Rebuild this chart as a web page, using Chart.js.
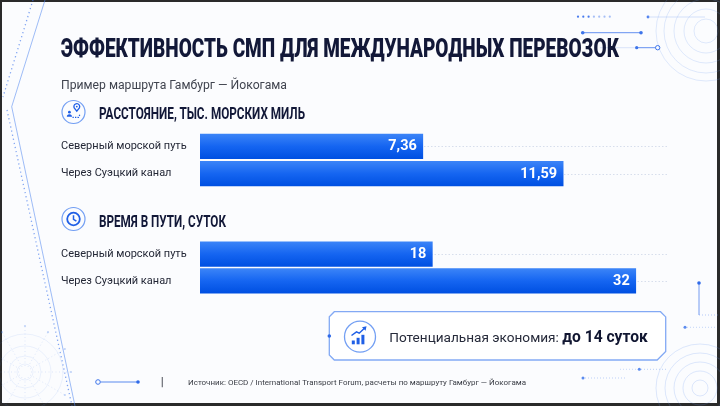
<!DOCTYPE html>
<html><head><meta charset="utf-8">
<script src="https://cdn.jsdelivr.net/npm/chart.js@4.4.1/dist/chart.umd.min.js"></script>
<style>
html,body{margin:0;padding:0;width:720px;height:406px;overflow:hidden;background:#2a2a2a;position:relative;}
#bg{position:absolute;left:2px;top:2px;right:3px;bottom:3px;background:#fbfcfe;}
#decor{position:absolute;left:0;top:0;z-index:1;}
.cv{position:absolute;z-index:2;}
.t{position:absolute;white-space:nowrap;line-height:1;font-family:Roboto,"Noto Sans",sans-serif;transform-origin:0 0;z-index:3;color:#121838;}
</style></head>
<body>
<div id="bg"></div>
<canvas id="decor" width="720" height="406"></canvas>
<div class="t fit" data-w="558" style="left:60.7px;top:34.8px;font-size:26px;font-weight:900;">ЭФФЕКТИВНОСТЬ СМП ДЛЯ МЕЖДУНАРОДНЫХ ПЕРЕВОЗОК</div>
<div class="t fit" data-w="226" style="left:60.7px;top:79px;font-size:12.5px;color:#40444f;">Пример маршрута Гамбург — Йокогама</div>
<div class="t fit" data-w="206" style="left:99.3px;top:106.1px;font-size:16.5px;font-weight:700;">РАССТОЯНИЕ, ТЫС. МОРСКИХ МИЛЬ</div>
<div class="t fit" data-w="127" style="left:99.3px;top:214.1px;font-size:16.5px;font-weight:700;">ВРЕМЯ В ПУТИ, СУТОК</div>
<div class="t" style="left:389.3px;top:328.8px;font-size:13.6px;line-height:16px;color:#262a3a;">Потенциальная экономия: <span style="font-size:15.6px;font-weight:700;color:#111631;">до 14 суток</span></div>
<div class="t fit" data-w="338" style="left:188.3px;top:378.8px;font-size:8px;color:#3a3d45;">Источник: OECD / International Transport Forum, расчеты по маршруту Гамбург — Йокогама</div>
<canvas id="c1" class="cv" width="700" height="68" style="left:0;top:126px;width:700px;height:68px;"></canvas>
<canvas id="c2" class="cv" width="700" height="67" style="left:0;top:234.25px;width:700px;height:67px;"></canvas>
<script>
// ---- data ----
const routeLabels = ['Северный морской путь', 'Через Суэцкий канал'];
const distanceValues = [7.36, 11.59];   // тыс. морских миль
const timeValues = [18, 32];            // суток
const savingDays = 14;

// ---- fit text widths ----
document.querySelectorAll('.fit').forEach(el => {
  const w = parseFloat(el.dataset.w);
  const nat = el.getBoundingClientRect().width;
  if (nat > 0) el.style.transform = 'scaleX(' + (w / nat) + ')';
});

// ---- decorations ----
const d = document.getElementById('decor').getContext('2d');
function dot(x, y, r, c) { d.beginPath(); d.arc(x, y, r, 0, Math.PI * 2); d.fillStyle = c; d.fill(); }
function line(pts, c, lw, dash) {
  d.beginPath(); d.setLineDash(dash || []); d.strokeStyle = c; d.lineWidth = lw;
  d.moveTo(pts[0][0], pts[0][1]); for (let i = 1; i < pts.length; i++) d.lineTo(pts[i][0], pts[i][1]);
  d.stroke(); d.setLineDash([]);
}
function ring(x, y, r, c, lw) { d.beginPath(); d.arc(x, y, r, 0, Math.PI * 2); d.strokeStyle = c; d.lineWidth = lw; d.stroke(); }
// left frame lines
line([[45, 0], [11.7, 106.7], [75, 406]], 'rgba(80,135,240,0.55)', 1);
line([[33, 0], [3, 97]], 'rgba(60,115,235,0.65)', 1.3, [1.2, 3]);
line([[7, 110], [72, 406]], 'rgba(60,115,235,0.65)', 1.3, [1.2, 3]);
// bottom-left radial
for (const r of [8, 16, 26, 38]) ring(25, 372, r, 'rgba(90,140,235,0.1)', 1);
for (let a = 0; a < 12; a++) {
  const ang = a * Math.PI / 6;
  const x2 = 25 + Math.cos(ang) * 46, y2 = 372 + Math.sin(ang) * 46;
  line([[25 + Math.cos(ang) * 6, 372 + Math.sin(ang) * 6], [x2, y2]], 'rgba(90,140,235,0.18)', 1, [1, 2.5]);
  dot(x2, y2, 1.1, 'rgba(70,125,235,0.3)');
}
// top-right circles
for (const r of [12, 22, 32, 42, 50]) ring(706, 31, r, 'rgba(110,155,240,0.2)', 1);
// bottom-right circles
for (const r of [8, 17, 26, 35, 44]) ring(700, 388, r, 'rgba(110,155,240,0.22)', 1);
// top-right lines
for (let i = 0; i < 7; i++) dot(578 + i * 5.3, 16.7, 1.1, i < 3 ? 'rgba(40,100,235,0.85)' : 'rgba(40,100,235,0.4)');
dot(648, 17, 1.4, 'rgba(40,100,235,0.8)');
line([[648, 17], [705, 17]], 'rgba(120,160,240,0.3)', 1);
line([[582.7, 32.7], [641, 32.7]], 'rgba(50,110,235,0.75)', 1);
dot(582.7, 32.7, 1.8, '#3d74ea'); dot(641, 32.7, 1.8, '#3d74ea');
line([[600, 47.7], [636.7, 47.7]], 'rgba(120,160,240,0.25)', 1);
line([[636.7, 47.7], [655.5, 47.7]], 'rgba(50,110,235,0.75)', 1);
dot(636.7, 47.7, 1.6, '#3d74ea'); ring(657.7, 47.7, 2.2, '#3d74ea', 1);
// bottom-right lines
line([[699, 283], [699, 315]], 'rgba(60,115,235,0.7)', 1);
dot(699, 283, 1.8, '#2f6ae8');
line([[699, 315], [718, 315]], 'rgba(90,140,240,0.45)', 1, [1, 2]);
dot(685, 327.3, 1.5, 'rgba(50,110,235,0.8)');
line([[687, 327.3], [716, 327.3]], 'rgba(110,155,240,0.4)', 1, [1, 2]);
dot(639.3, 369.3, 1.5, 'rgba(50,110,235,0.8)');
line([[620, 369.3], [637, 369.3]], 'rgba(110,155,240,0.35)', 1, [1, 2]);
line([[641, 369.3], [668, 369.3]], 'rgba(110,155,240,0.45)', 1, [1, 2]);
dot(583, 378, 1.5, 'rgba(50,110,235,0.8)');
line([[585, 378], [627, 378]], 'rgba(110,155,240,0.45)', 1, [1, 2]);
// footer deco
line([[100.5, 382], [138, 382]], 'rgba(50,110,235,0.8)', 1);
ring(98, 382, 2.3, '#3d74ea', 1); dot(138, 382, 1.8, '#2f6ae8');
line([[162.3, 377], [162.3, 387.3]], '#6a6d75', 1.2);
// info box
d.beginPath();
d.moveTo(334.3, 311.7); d.lineTo(660.5, 311.7); d.lineTo(665.7, 316.9);
d.lineTo(665.7, 351.5); d.lineTo(657.2, 360); d.lineTo(334.3, 360);
d.lineTo(329.3, 355); d.lineTo(329.3, 316.7); d.closePath();
d.fillStyle = '#ffffff'; d.fill(); d.strokeStyle = 'rgba(90,140,240,0.75)'; d.lineWidth = 1.3; d.stroke();
dot(329.3, 336, 1.8, '#2f6ae8');
// info icon
ring(360, 336.7, 15.5, 'rgba(80,135,240,0.8)', 1.3);
d.fillStyle = '#1f5fe6';
d.fillRect(351.8, 340.5, 3, 3.8); d.fillRect(356.6, 337.8, 3, 6.5); d.fillRect(361.4, 334.8, 3, 9.5);
line([[351.5, 335.5], [356.5, 331.8], [359.2, 333.2], [365, 327.8]], '#1f5fe6', 1.5);
d.beginPath(); d.moveTo(366.5, 326.3); d.lineTo(362, 327.2); d.lineTo(365.6, 330.8); d.closePath(); d.fill();
// distance icon
ring(73.5, 112, 11.5, 'rgba(80,135,240,0.8)', 1.2);
d.beginPath(); d.arc(76.8, 106.6, 2.9, Math.PI * 0.85, Math.PI * 2.15); d.lineTo(76.8, 111.2); d.closePath();
d.strokeStyle = '#1f5fe6'; d.lineWidth = 1.3; d.stroke();
dot(76.8, 106.6, 0.9, '#1f5fe6');
dot(69.4, 112.2, 1.4, '#1f5fe6');
d.beginPath(); d.arc(69.4, 116.8, 2.6, Math.PI, 0); d.fillStyle = '#1f5fe6'; d.fill();
line([[72.5, 117.3], [78.5, 117.3], [80, 114.5]], '#1f5fe6', 1.2, [1.3, 1.2]);
// clock icon
ring(73.5, 219, 11.5, 'rgba(80,135,240,0.8)', 1.2);
ring(73.5, 219, 6.3, '#1f5fe6', 1.8);
line([[73.5, 215.3], [73.5, 219.3], [76.4, 221.2]], '#1f5fe6', 1.5);

// ---- charts ----
const fmt = v => String(v).replace('.', ',');
const trackPlugin = {
  id: 'track',
  beforeDatasetsDraw(chart) {
    const { ctx, chartArea } = chart;
    const meta = chart.getDatasetMeta(0);
    ctx.save();
    ctx.strokeStyle = 'rgba(200,210,228,0.7)'; ctx.lineWidth = 1; ctx.setLineDash([1.5, 2]);
    meta.data.forEach(b => {
      ctx.beginPath(); ctx.moveTo(chartArea.left, Math.round(b.y) + 0.5); ctx.lineTo(chartArea.right, Math.round(b.y) + 0.5); ctx.stroke();
    });
    ctx.restore();
  }
};
const valuePlugin = {
  id: 'values',
  afterDatasetsDraw(chart) {
    const { ctx } = chart;
    const ds = chart.data.datasets[0];
    const meta = chart.getDatasetMeta(0);
    ctx.save();
    ctx.fillStyle = '#ffffff'; ctx.textAlign = 'right'; ctx.textBaseline = 'middle';
    ctx.font = '700 14.5px Roboto';
    meta.data.forEach((b, i) => ctx.fillText(fmt(ds.data[i]), b.x - 6, b.y + 0.5));
    ctx.restore();
  }
};
function barFill(context) {
  const chart = context.chart;
  const y = chart.scales.y;
  if (!y || context.dataIndex === undefined) return '#0f5eef';
  const c = y.getPixelForTick(context.dataIndex);
  const g = chart.ctx.createLinearGradient(0, c - 12, 0, c + 12);
  g.addColorStop(0, '#3a83f7'); g.addColorStop(0.5, '#1565f1'); g.addColorStop(1, '#0050e2');
  return g;
}
function makeChart(id, values, min, max) {
  return new Chart(document.getElementById(id), {
    type: 'bar',
    data: { labels: routeLabels, datasets: [{ data: values, backgroundColor: barFill, borderWidth: 0, barThickness: 24.5 }] },
    options: {
      indexAxis: 'y', responsive: false, animation: false, devicePixelRatio: 1,
      layout: { padding: { left: 61, right: 33, top: 0, bottom: 0 } },
      scales: {
        x: { min: min, max: max, display: false },
        y: {
          grid: { display: false }, border: { display: false },
          ticks: { crossAlign: 'far', color: '#232736', padding: 0, font: { family: 'Roboto', size: 11 } },
          afterFit(s) { s.width = 139; }
        }
      },
      plugins: { legend: { display: false }, tooltip: { enabled: false } }
    },
    plugins: [trackPlugin, valuePlugin]
  });
}
makeChart('c1', distanceValues, 0.645, 14.72);
makeChart('c2', timeValues, 2.01, 34.15);
</script>
</body></html>
